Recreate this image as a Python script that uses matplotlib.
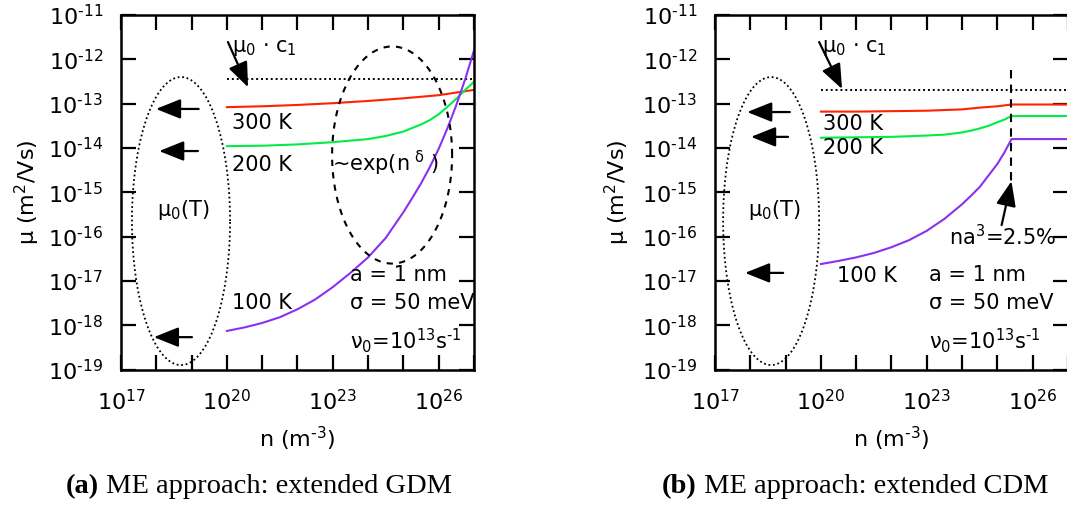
import numpy as np
import matplotlib
matplotlib.use("Agg")
import matplotlib.pyplot as plt
from matplotlib.text import Annotation

plt.rcParams["font.family"] = ["DejaVu Sans"]
plt.rcParams["mathtext.default"] = "regular"

HY = "\u2010"   # short hyphen for exponents

# log10 of carrier density n (m^-3) and mobility mu (m^2/Vs)
# --- panel (a): extended GDM ---
gdm_300_logn = [20.0, 21.0, 22.0, 23.0, 24.0, 25.0, 26.0, 27.0]
gdm_300_logmu = [-13.08, -13.06, -13.03, -12.99, -12.94, -12.88, -12.81, -12.69]

gdm_200_logn = [20.0, 21.0, 22.0, 23.0, 24.0, 24.5, 25.0, 25.25, 25.5, 25.75, 26.0, 26.25,
                26.5, 26.75, 27.0]
gdm_200_logmu = [-13.96, -13.95, -13.92, -13.87, -13.80, -13.73, -13.63, -13.55, -13.47, -13.37,
                 -13.24, -13.07, -12.89, -12.69, -12.51]

gdm_100_logn = [20.0, 20.5, 21.0, 21.5, 22.0, 22.5, 23.0, 23.5, 24.0, 24.5,
                25.0, 25.25, 25.5, 25.75, 26.0, 26.25, 26.5, 26.75, 27.0]
gdm_100_logmu = [-18.13, -18.05, -17.95, -17.82, -17.64, -17.42, -17.14, -16.82, -16.47, -16.03,
                 -15.45, -15.13, -14.80, -14.43, -14.02, -13.55, -13.03, -12.45, -11.80]

gdm_c1_logmu = -12.44

# --- panel (b): extended CDM ---
cdm_300_logn = [20.0, 21.0, 22.0, 23.0, 24.0, 24.5, 25.0, 25.4, 27.0]
cdm_300_logmu = [-13.18, -13.18, -13.17, -13.16, -13.13, -13.09, -13.06, -13.02, -13.02]

cdm_200_logn = [20.0, 21.0, 22.0, 23.0, 23.5, 24.0, 24.25, 24.5, 24.75, 25.0, 25.2, 25.4, 27.0]
cdm_200_logmu = [-13.77, -13.76, -13.75, -13.72, -13.70, -13.65, -13.61, -13.56, -13.50, -13.42,
                 -13.36, -13.28, -13.28]

cdm_100_logn = [20.0, 20.5, 21.0, 21.5, 22.0, 22.5, 23.0, 23.5, 24.0, 24.25, 24.5, 24.75,
                25.0, 25.2, 25.4, 27.0]
cdm_100_logmu = [-16.62, -16.55, -16.47, -16.37, -16.24, -16.08, -15.87, -15.60, -15.27, -15.08,
                 -14.88, -14.62, -14.36, -14.10, -13.80, -13.80]

cdm_c1_logmu = -12.69
n_perc = 2.5e25   # na^3 = 2.5 %, a = 1 nm

# mu_0(T) markers (log10 mu) for 300 K, 200 K, 100 K
mu0_gdm = [-13.12, -14.07, -18.27]
mu0_cdm = [-13.19, -13.75, -16.82]

RED = "#ff2200"
GREEN = "#00ee44"
PURPLE = "#8c30f0"

x_exps = list(range(17, 28))
x_labeled = (17, 20, 23, 26)
y_exps = list(range(-19, -10))

FS = 15


def p(v):
    return 10.0 ** np.asarray(v, dtype=float)


def sup(e):
    return "$10^{%s%d}$" % (HY if e < 0 else "", abs(e))


def setup(ax, ylab_x):
    ax.set_xscale("log")
    ax.set_yscale("log")
    ax.set_xlim(1e17, 1e27)
    ax.set_ylim(1e-19, 1e-11)
    ax.set_xticks([10.0 ** e for e in x_exps])
    ax.set_xticklabels([sup(e) if e in x_labeled else "" for e in x_exps])
    ax.set_yticks([10.0 ** e for e in y_exps])
    ax.set_yticklabels([sup(e) for e in y_exps])
    ax.minorticks_off()
    ax.tick_params(which="major", direction="in", top=True, right=True,
                   length=11, width=1.6, labelsize=16)
    ax.tick_params(axis="y", pad=13)
    ax.tick_params(axis="x", pad=14)
    for s in ax.spines.values():
        s.set_linewidth(1.8)
    ax.set_ylabel("μ (m$^2$/Vs)", fontsize=16)
    ax.set_xlabel("n (m$^{%s3}$)" % HY, fontsize=16)
    ax.yaxis.set_label_coords(ylab_x, 0.5)
    ax.xaxis.set_label_coords(0.5, -0.155)


def ellipse(ax, cx, cy, a, b, **kw):
    t = np.linspace(0, 2 * np.pi, 400)
    ax.plot(10 ** (cx + a * np.cos(t)), 10 ** (cy + b * np.sin(t)), color="black", **kw)


def arrow(ax, tail, head):
    ax.annotate("", xy=(10 ** head[0], 10 ** head[1]), xytext=(10 ** tail[0], 10 ** tail[1]),
                arrowprops=dict(arrowstyle="-|>,head_length=0.95,head_width=0.38",
                                color="black", lw=1.6, mutation_scale=16,
                                shrinkA=0, shrinkB=0))


def label(ax, x, y, s):
    ax.text(10 ** x, 10 ** y, s, fontsize=FS, ha="left", va="center")


fig = plt.figure(figsize=(10.67, 5.08), dpi=100)
ax1 = fig.add_axes([121 / 1067, 138.5 / 508, 353 / 1067, 354.5 / 508])
ax2 = fig.add_axes([715 / 1067, 138.5 / 508, 353 / 1067, 354.5 / 508])

nu0 = "ν$_0$=10$^{13}$s$^{%s1}$" % HY

# (a) extended GDM
setup(ax1, -0.225)
ax1.plot([1e20, 1e27], [10 ** gdm_c1_logmu] * 2, color="black", lw=1.4, ls=(0, (1, 1.5)))
ax1.plot(p(gdm_300_logn), p(gdm_300_logmu), color=RED, lw=1.5)
ax1.plot(p(gdm_200_logn), p(gdm_200_logmu), color=GREEN, lw=1.5)
ax1.plot(p(gdm_100_logn), p(gdm_100_logmu), color=PURPLE, lw=1.5)
ellipse(ax1, 18.70, -15.65, 1.39, 3.25, lw=1.3, ls=(0, (1, 1.5)))
ellipse(ax1, 24.68, -14.16, 1.70, 2.45, lw=1.5, ls=(0, (3, 3)))
for y, xt, xh in zip(mu0_gdm, [19.2, 19.18, 19.01], [17.99, 18.08, 17.93]):
    arrow(ax1, (xt, y), (xh, y))
arrow(ax1, (20.03, -11.61), (20.6, -12.63))
label(ax1, 20.14, -11.74, "μ$_0$ · c$_1$")
label(ax1, 20.14, -13.44, "300 K")
label(ax1, 20.14, -14.39, "200 K")
label(ax1, 20.14, -17.50, "100 K")
label(ax1, 22.98, -14.34, "~exp(n$^{\\ \\delta}$ )")
label(ax1, 18.02, -15.40, "μ$_0$(T)")
label(ax1, 23.49, -16.87, "a = 1 nm")
label(ax1, 23.49, -17.50, "σ = 50 meV")
label(ax1, 23.49, -18.34, nu0)

# (b) extended CDM
setup(ax2, -0.235)
ax2.plot([1e20, 1e27], [10 ** cdm_c1_logmu] * 2, color="black", lw=1.4, ls=(0, (1, 1.5)))
ax2.plot(p(cdm_300_logn), p(cdm_300_logmu), color=RED, lw=1.5)
ax2.plot(p(cdm_200_logn), p(cdm_200_logmu), color=GREEN, lw=1.5)
ax2.plot(p(cdm_100_logn), p(cdm_100_logmu), color=PURPLE, lw=1.5)
ax2.plot([n_perc, n_perc], [10 ** -12.24, 10 ** -14.75], color="black", lw=1.5, ls=(0, (4, 3)))
ellipse(ax2, 18.59, -15.65, 1.36, 3.25, lw=1.3, ls=(0, (1, 1.5)))
for y, xt, xh in zip(mu0_cdm, [19.12, 19.07, 18.93], [17.91, 18.02, 17.85]):
    arrow(ax2, (xt, y), (xh, y))
arrow(ax2, (19.95, -11.61), (20.6, -12.67))
arrow(ax2, (25.12, -15.74), (np.log10(n_perc), -14.75))
label(ax2, 20.03, -11.74, "μ$_0$ · c$_1$")
label(ax2, 20.06, -13.46, "300 K")
label(ax2, 20.06, -14.00, "200 K")
label(ax2, 20.46, -16.89, "100 K")
label(ax2, 17.93, -15.40, "μ$_0$(T)")
label(ax2, 23.63, -16.01, "na$^3$=2.5%")
label(ax2, 23.06, -16.87, "a = 1 nm")
label(ax2, 23.06, -17.50, "σ = 50 meV")
label(ax2, 23.06, -18.34, nu0)

# captions: bold tag followed by the plain title
for xs, tag, rest in [(66 / 1067, "(a)", " ME approach: extended GDM"),
                      (662 / 1067, "(b)", " ME approach: extended CDM")]:
    t = fig.text(xs, 1 - 493 / 508, tag, fontsize=20.5, family="Liberation Serif",
                 weight="bold", ha="left", va="baseline")
    fig.add_artist(Annotation(rest, xy=(1, 0), xycoords=t, ha="left", va="bottom",
                              fontsize=20.5, family="Liberation Serif"))

fig.savefig("out.png", dpi=100)
